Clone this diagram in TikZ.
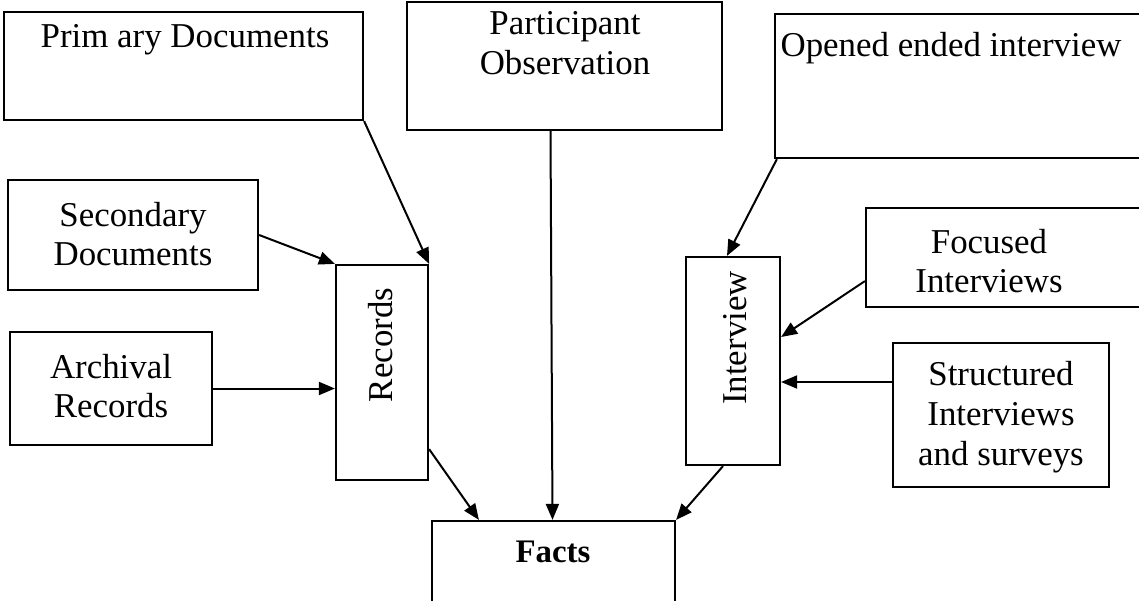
\documentclass[tikz,border=0pt]{standalone}
\usepackage{fontspec}
\setmainfont{Liberation Serif}
\usetikzlibrary{arrows.meta,calc}
\begin{document}
\begin{tikzpicture}[x=1bp,y=-1bp,
  box/.style={draw, line width=2.2bp, inner sep=0pt},
  lbl/.style={font=\fontsize{35}{40}\selectfont, align=center, inner sep=0pt},
  conn/.style={line width=2bp, -{Triangle[length=16bp,width=13bp]}},
]
\useasboundingbox (0,0) rectangle (1139,601);

% source boxes on the left
\node[box, minimum width=359bp, minimum height=108bp] (prim) at (183.5,66) {};
\node[lbl] (primt) at (185,40) {Prim ary Documents};
\node[box, minimum width=250bp, minimum height=110bp] (sec) at (133,235) {};
\node[lbl] (sect) at (133,234) {Secondary\\Documents};
\node[box, minimum width=202bp, minimum height=113bp] (arch) at (111,388.5) {};
\node[lbl] (archt) at (111,386) {Archival\\Records};

% participant observation at the top
\node[box, minimum width=315bp, minimum height=128bp] (part) at (564.5,66) {};
\node[lbl] (partt) at (565,43) {Participant\\Observation};

% interview sources on the right
\node[box, minimum width=375bp, minimum height=144bp] (open) at (962.5,86) {};
\node[lbl] (opent) at (951,48) {Opened ended interview};
\node[box, minimum width=284bp, minimum height=99bp] (foc) at (1008,257.5) {};
\node[lbl] (foct) at (989,261) {Focused\\Interviews};
\node[box, minimum width=216bp, minimum height=144bp] (str) at (1001,415) {};
\node[lbl] (strt) at (1001,417) {Structured\\Interviews\\and surveys};

% intermediate groups
\node[box, minimum width=92bp, minimum height=215bp] (rec) at (382,372.5) {};
\node[lbl, rotate=90] (rect) at (381,345) {Records};
\node[box, minimum width=94bp, minimum height=208bp] (intv) at (733,361) {};
\node[lbl, rotate=90] (intvt) at (735,338) {Interview};

% result
\node[box, minimum width=243bp, minimum height=110bp] (facts) at (553.5,576) {};
\node[lbl, font=\fontsize{33}{40}\selectfont] (factst) at (553,552) {\textbf{Facts}};

% connectors
\draw[conn] (prim.south east) -- (rec.north east);
\draw[conn] (sec.east) -- (rec.north west);
\draw[conn] (arch.east) -- (arch.east -| rec.west);
\draw[conn] ([xshift=-14bp]part.south) -- ([xshift=-12bp]part.south |- facts.north);
\draw[conn] ([yshift=32bp]rec.south east) -- ([xshift=48bp]facts.north west);
\draw[conn] ([xshift=3bp]open.south west) -- ([xshift=-6bp]intv.north);
\draw[conn] ([yshift=27bp]foc.south west) -- ([yshift=24bp]intv.east);
\draw[conn] ([yshift=33bp]str.west) -- ([yshift=33bp]str.west -| intv.east);
\draw[conn] ([xshift=-10bp]intv.south) -- (facts.north east);
\end{tikzpicture}
\end{document}
